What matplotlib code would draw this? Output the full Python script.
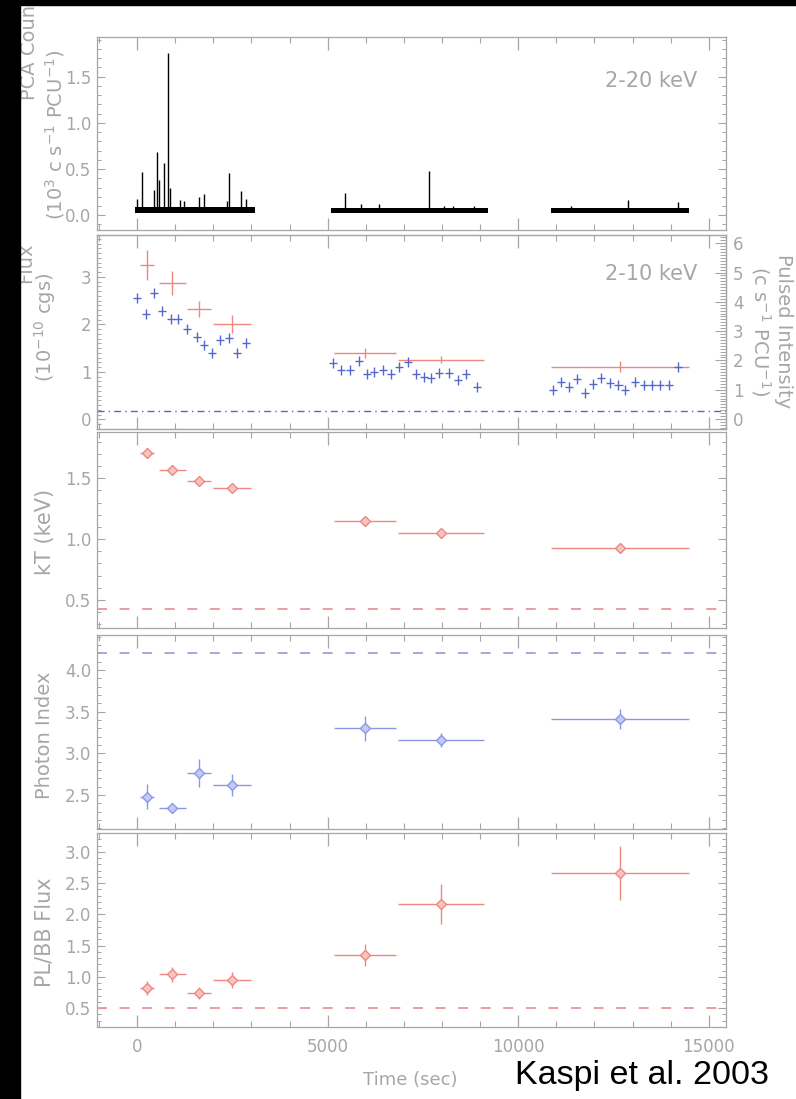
import matplotlib
matplotlib.use("Agg")
import matplotlib.pyplot as plt
from matplotlib.patches import Rectangle
from matplotlib.ticker import MultipleLocator, FixedLocator, FixedFormatter
import numpy as np

# ---------------- data ----------------
# Panel 1: PCA light curve (2-20 keV)
seg_start = [-50, 5080, 10870]
seg_end = [3090, 9200, 14470]
band_lo = [0.02, 0.025, 0.025]
band_hi = [0.085, 0.08, 0.08]
spike_t = [0, 120, 450, 520, 580, 710, 805, 870, 1130, 1220, 1630, 1760, 2360,
           2420, 2730, 2870, 5450, 5870, 6350, 7660, 8050, 8280, 8830, 11390,
           12890, 14180]
spike_h = [0.18, 0.47, 0.27, 0.68, 0.38, 0.57, 1.76, 0.30, 0.17, 0.15, 0.20,
           0.23, 0.15, 0.46, 0.26, 0.18, 0.24, 0.12, 0.12, 0.48, 0.10, 0.10,
           0.10, 0.10, 0.17, 0.14]

# Spectral bins (shared by panels 2-5)
bin_t = [260, 930, 1630, 2500, 5970, 7970, 12670]
bin_dt = [190, 350, 320, 500, 815, 1130, 1800]

# Panel 2: total flux (red, left axis, 1e-10 cgs)
flux = [3.25, 2.87, 2.33, 2.00, 1.40, 1.26, 1.11]
flux_err = [0.31, 0.25, 0.17, 0.19, 0.10, 0.08, 0.12]

# Panel 2: pulsed intensity (blue, right axis)
puls_t = [0, 230, 450, 660, 890, 1080, 1320, 1580, 1760, 1970, 2180, 2400,
          2630, 2870,
          5130, 5340, 5580, 5820, 6030, 6210, 6450, 6660, 6870, 7100, 7310,
          7520, 7710, 7920, 8180, 8420, 8630, 8920,
          10900, 11110, 11320, 11530, 11740, 11950, 12180, 12400, 12630,
          12810, 13050, 13290, 13500, 13710, 13950, 14180]
puls_val = [4.13, 3.58, 4.30, 3.69, 3.41, 3.41, 3.07, 2.80, 2.53, 2.25, 2.70,
            2.76, 2.25, 2.59,
            1.91, 1.67, 1.67, 1.98, 1.54, 1.60, 1.67, 1.54, 1.77, 1.95, 1.54,
            1.43, 1.40, 1.57, 1.57, 1.33, 1.54, 1.09,
            0.99, 1.26, 1.09, 1.36, 0.89, 1.19, 1.40, 1.23, 1.16, 0.99, 1.26,
            1.16, 1.16, 1.16, 1.16, 1.77]
puls_dt = 105
puls_err = 0.17
pulse_bg = 0.27        # dash-dot level (right axis units)

# Panel 3: blackbody kT (keV)
kT = [1.71, 1.57, 1.475, 1.42, 1.15, 1.05, 0.93]
kT_err = [0.04, 0.03, 0.03, 0.03, 0.03, 0.03, 0.03]
kT_ref = 0.43

# Panel 4: photon index
gamma = [2.48, 2.34, 2.76, 2.62, 3.30, 3.16, 3.41]
gamma_err = [0.15, 0.06, 0.17, 0.13, 0.15, 0.08, 0.12]
gamma_ref = 4.2

# Panel 5: PL/BB flux ratio
ratio = [0.82, 1.04, 0.74, 0.95, 1.35, 2.17, 2.66]
ratio_err = [0.11, 0.12, 0.10, 0.13, 0.18, 0.32, 0.43]
ratio_ref = 0.5

x_ticks = [0, 5000, 10000, 15000]
x_ticklabels = ["0", "5000", "10000", "15000"]

# ---------------- style ----------------
W, H = 796, 1099
GRAY = "#a6a6a6"
RED = "#ee8780"
BLUE_D = "#5566cc"
BLUE_L = "#8a98e6"
RED_DASH = "#e8959a"
BLUE_DASH = "#9ca3dc"
PURPLE = "#6b5fc4"
plt.rcParams["font.family"] = ["DejaVu Sans"]

fig = plt.figure(figsize=(W / 100, H / 100), dpi=100)
fig.patch.set_facecolor("white")

def fx(px):
    return px / W

def fy(py):
    return 1 - py / H

def add_ax(top, bot):
    return fig.add_axes([fx(97), fy(bot), fx(726) - fx(97), (bot - top) / H])

panels = [(37, 230), (235, 429), (432, 628), (635, 829), (833, 1027)]
axes = [add_ax(t, b) for t, b in panels]

def style(ax, last=False):
    for s in ax.spines.values():
        s.set_color(GRAY)
        s.set_linewidth(0.9)
    ax.set_xlim(-1050, 15450)
    ax.xaxis.set_major_locator(FixedLocator(x_ticks))
    ax.xaxis.set_minor_locator(MultipleLocator(1000))
    ax.tick_params(axis="x", which="major", direction="in", length=9,
                   width=0.9, color=GRAY, top=True, bottom=True,
                   labelsize=12, labelcolor=GRAY, pad=8)
    ax.tick_params(axis="x", which="minor", direction="in", length=4.5,
                   width=0.8, color=GRAY, top=True, bottom=True)
    ax.tick_params(axis="y", which="major", direction="in", length=6,
                   width=0.8, color=GRAY, left=True, right=True,
                   labelsize=12, labelcolor=GRAY, pad=4)
    ax.tick_params(axis="y", which="minor", direction="in", length=3,
                   width=0.7, color=GRAY, left=True, right=True)
    if last:
        ax.set_xticklabels(x_ticklabels)
    else:
        ax.tick_params(axis="x", labelbottom=False)

# ---- Panel 1 ----
ax = axes[0]
style(ax)
for s0, s1, lo, hi in zip(seg_start, seg_end, band_lo, band_hi):
    ax.fill_between([s0, s1], [lo, lo], [hi, hi], color="black", lw=0)
ax.vlines(spike_t, 0.05, spike_h, color="black", lw=1.0)
ax.set_ylim(-0.16, 1.93)
ax.yaxis.set_major_locator(FixedLocator([0.0, 0.5, 1.0, 1.5]))
ax.yaxis.set_major_formatter(FixedFormatter(["0.0", "0.5", "1.0", "1.5"]))
ax.yaxis.set_minor_locator(MultipleLocator(0.1))
ax.text(0.955, 0.77, "2-20 keV", transform=ax.transAxes, ha="right",
        va="center", color=GRAY, fontsize=15)

# ---- Panel 2 ----
ax = axes[1]
style(ax)
ax.tick_params(axis="y", which="both", right=False)
ax.errorbar(bin_t, flux, xerr=bin_dt, yerr=flux_err, fmt="none",
            ecolor=RED, elinewidth=1.0, capsize=0, zorder=3)
ax.set_ylim(-0.2, 3.88)
ax.yaxis.set_major_locator(FixedLocator([0, 1, 2, 3]))
ax.yaxis.set_major_formatter(FixedFormatter(["0", "1", "2", "3"]))
ax.yaxis.set_minor_locator(MultipleLocator(0.1))
ax.text(0.955, 0.80, "2-10 keV", transform=ax.transAxes, ha="right",
        va="center", color=GRAY, fontsize=15)
ax2 = ax.twinx()
for s in ax2.spines.values():
    s.set_color(GRAY)
    s.set_linewidth(0.9)
ax2.set_ylim(-0.34, 6.28)
ax2.errorbar(puls_t, puls_val, xerr=puls_dt, yerr=puls_err, fmt="none",
             ecolor=BLUE_D, elinewidth=1.0, capsize=0, zorder=3)
ax2.axhline(pulse_bg, color=PURPLE, lw=1.0, ls=(0, (5, 3, 1, 3)))
ax2.yaxis.set_major_locator(FixedLocator([0, 1, 2, 3, 4, 5, 6]))
ax2.yaxis.set_major_formatter(FixedFormatter(["0", "1", "2", "3", "4", "5", "6"]))
ax2.yaxis.set_minor_locator(MultipleLocator(0.1))
ax2.tick_params(axis="y", which="major", direction="in", length=8, width=0.8,
                color=GRAY, labelsize=12, labelcolor=GRAY, pad=5)
ax2.tick_params(axis="y", which="minor", direction="in", length=4, width=0.7,
                color=GRAY)

# ---- Panel 3 ----
ax = axes[2]
style(ax)
ax.errorbar(bin_t, kT, xerr=bin_dt, yerr=kT_err, fmt="D", ms=5.5,
            mfc="#f7c4c0", mec=RED, mew=1.0, ecolor=RED, elinewidth=1.0,
            capsize=0)
ax.axhline(kT_ref, color=RED_DASH, lw=1.3, ls=(0, (5.5, 7)))
ax.set_ylim(0.27, 1.88)
ax.yaxis.set_major_locator(FixedLocator([0.5, 1.0, 1.5]))
ax.yaxis.set_major_formatter(FixedFormatter(["0.5", "1.0", "1.5"]))
ax.yaxis.set_minor_locator(MultipleLocator(0.1))

# ---- Panel 4 ----
ax = axes[3]
style(ax)
ax.errorbar(bin_t, gamma, xerr=bin_dt, yerr=gamma_err, fmt="D", ms=5.5,
            mfc="#c3caf3", mec=BLUE_L, mew=1.0, ecolor=BLUE_L, elinewidth=1.0,
            capsize=0)
ax.axhline(gamma_ref, color=BLUE_DASH, lw=1.3, ls=(0, (5.5, 7)))
ax.set_ylim(2.09, 4.42)
ax.yaxis.set_major_locator(FixedLocator([2.5, 3.0, 3.5, 4.0]))
ax.yaxis.set_major_formatter(FixedFormatter(["2.5", "3.0", "3.5", "4.0"]))
ax.yaxis.set_minor_locator(MultipleLocator(0.1))

# ---- Panel 5 ----
ax = axes[4]
style(ax, last=True)
ax.errorbar(bin_t, ratio, xerr=bin_dt, yerr=ratio_err, fmt="D", ms=5.5,
            mfc="#f7c4c0", mec=RED, mew=1.0, ecolor=RED, elinewidth=1.0,
            capsize=0)
ax.axhline(ratio_ref, color=RED_DASH, lw=1.3, ls=(0, (5.5, 7)))
ax.set_ylim(0.2, 3.3)
ax.yaxis.set_major_locator(FixedLocator([0.5, 1.0, 1.5, 2.0, 2.5, 3.0]))
ax.yaxis.set_major_formatter(FixedFormatter(["0.5", "1.0", "1.5", "2.0", "2.5", "3.0"]))
ax.yaxis.set_minor_locator(MultipleLocator(0.1))

# ---- axis labels ----
def vlabel(x, y, s, rot=90, size=14, va="center"):
    fig.text(fx(x), fy(y), s, rotation=rot, ha="center", va=va,
             color=GRAY, fontsize=size)

vlabel(30, 100, "PCA Count Rate", size=14, va="bottom")
vlabel(55, 135, r"(10$^3$ c s$^{-1}$ PCU$^{-1}$)", size=14)
vlabel(26, 283, "Flux", size=14, va="bottom")
vlabel(45, 327, r"(10$^{-10}$ cgs)", size=14)
vlabel(45, 532, "kT (keV)", size=15)
vlabel(45, 735, "Photon Index", size=14)
vlabel(45, 932, "PL/BB Flux", size=15)
vlabel(784, 331, "Pulsed Intensity", rot=270)
vlabel(761, 331, r"(c s$^{-1}$ PCU$^{-1}$)", rot=270)
fig.text(fx(410), fy(1080), "Time (sec)", ha="center", va="center",
         color=GRAY, fontsize=13)

fig.text(fx(515), fy(1084), "Kaspi et al. 2003", ha="left", va="baseline",
         color="black", fontsize=24.5, family="Liberation Sans")

# black frame strips
fig.add_artist(Rectangle((0, 0), fx(20), 1, transform=fig.transFigure,
                         color="black", zorder=20))
fig.add_artist(Rectangle((0, fy(5)), 1, 5 / H, transform=fig.transFigure,
                         color="black", zorder=20))

fig.savefig("out.png", dpi=100, facecolor="white")
